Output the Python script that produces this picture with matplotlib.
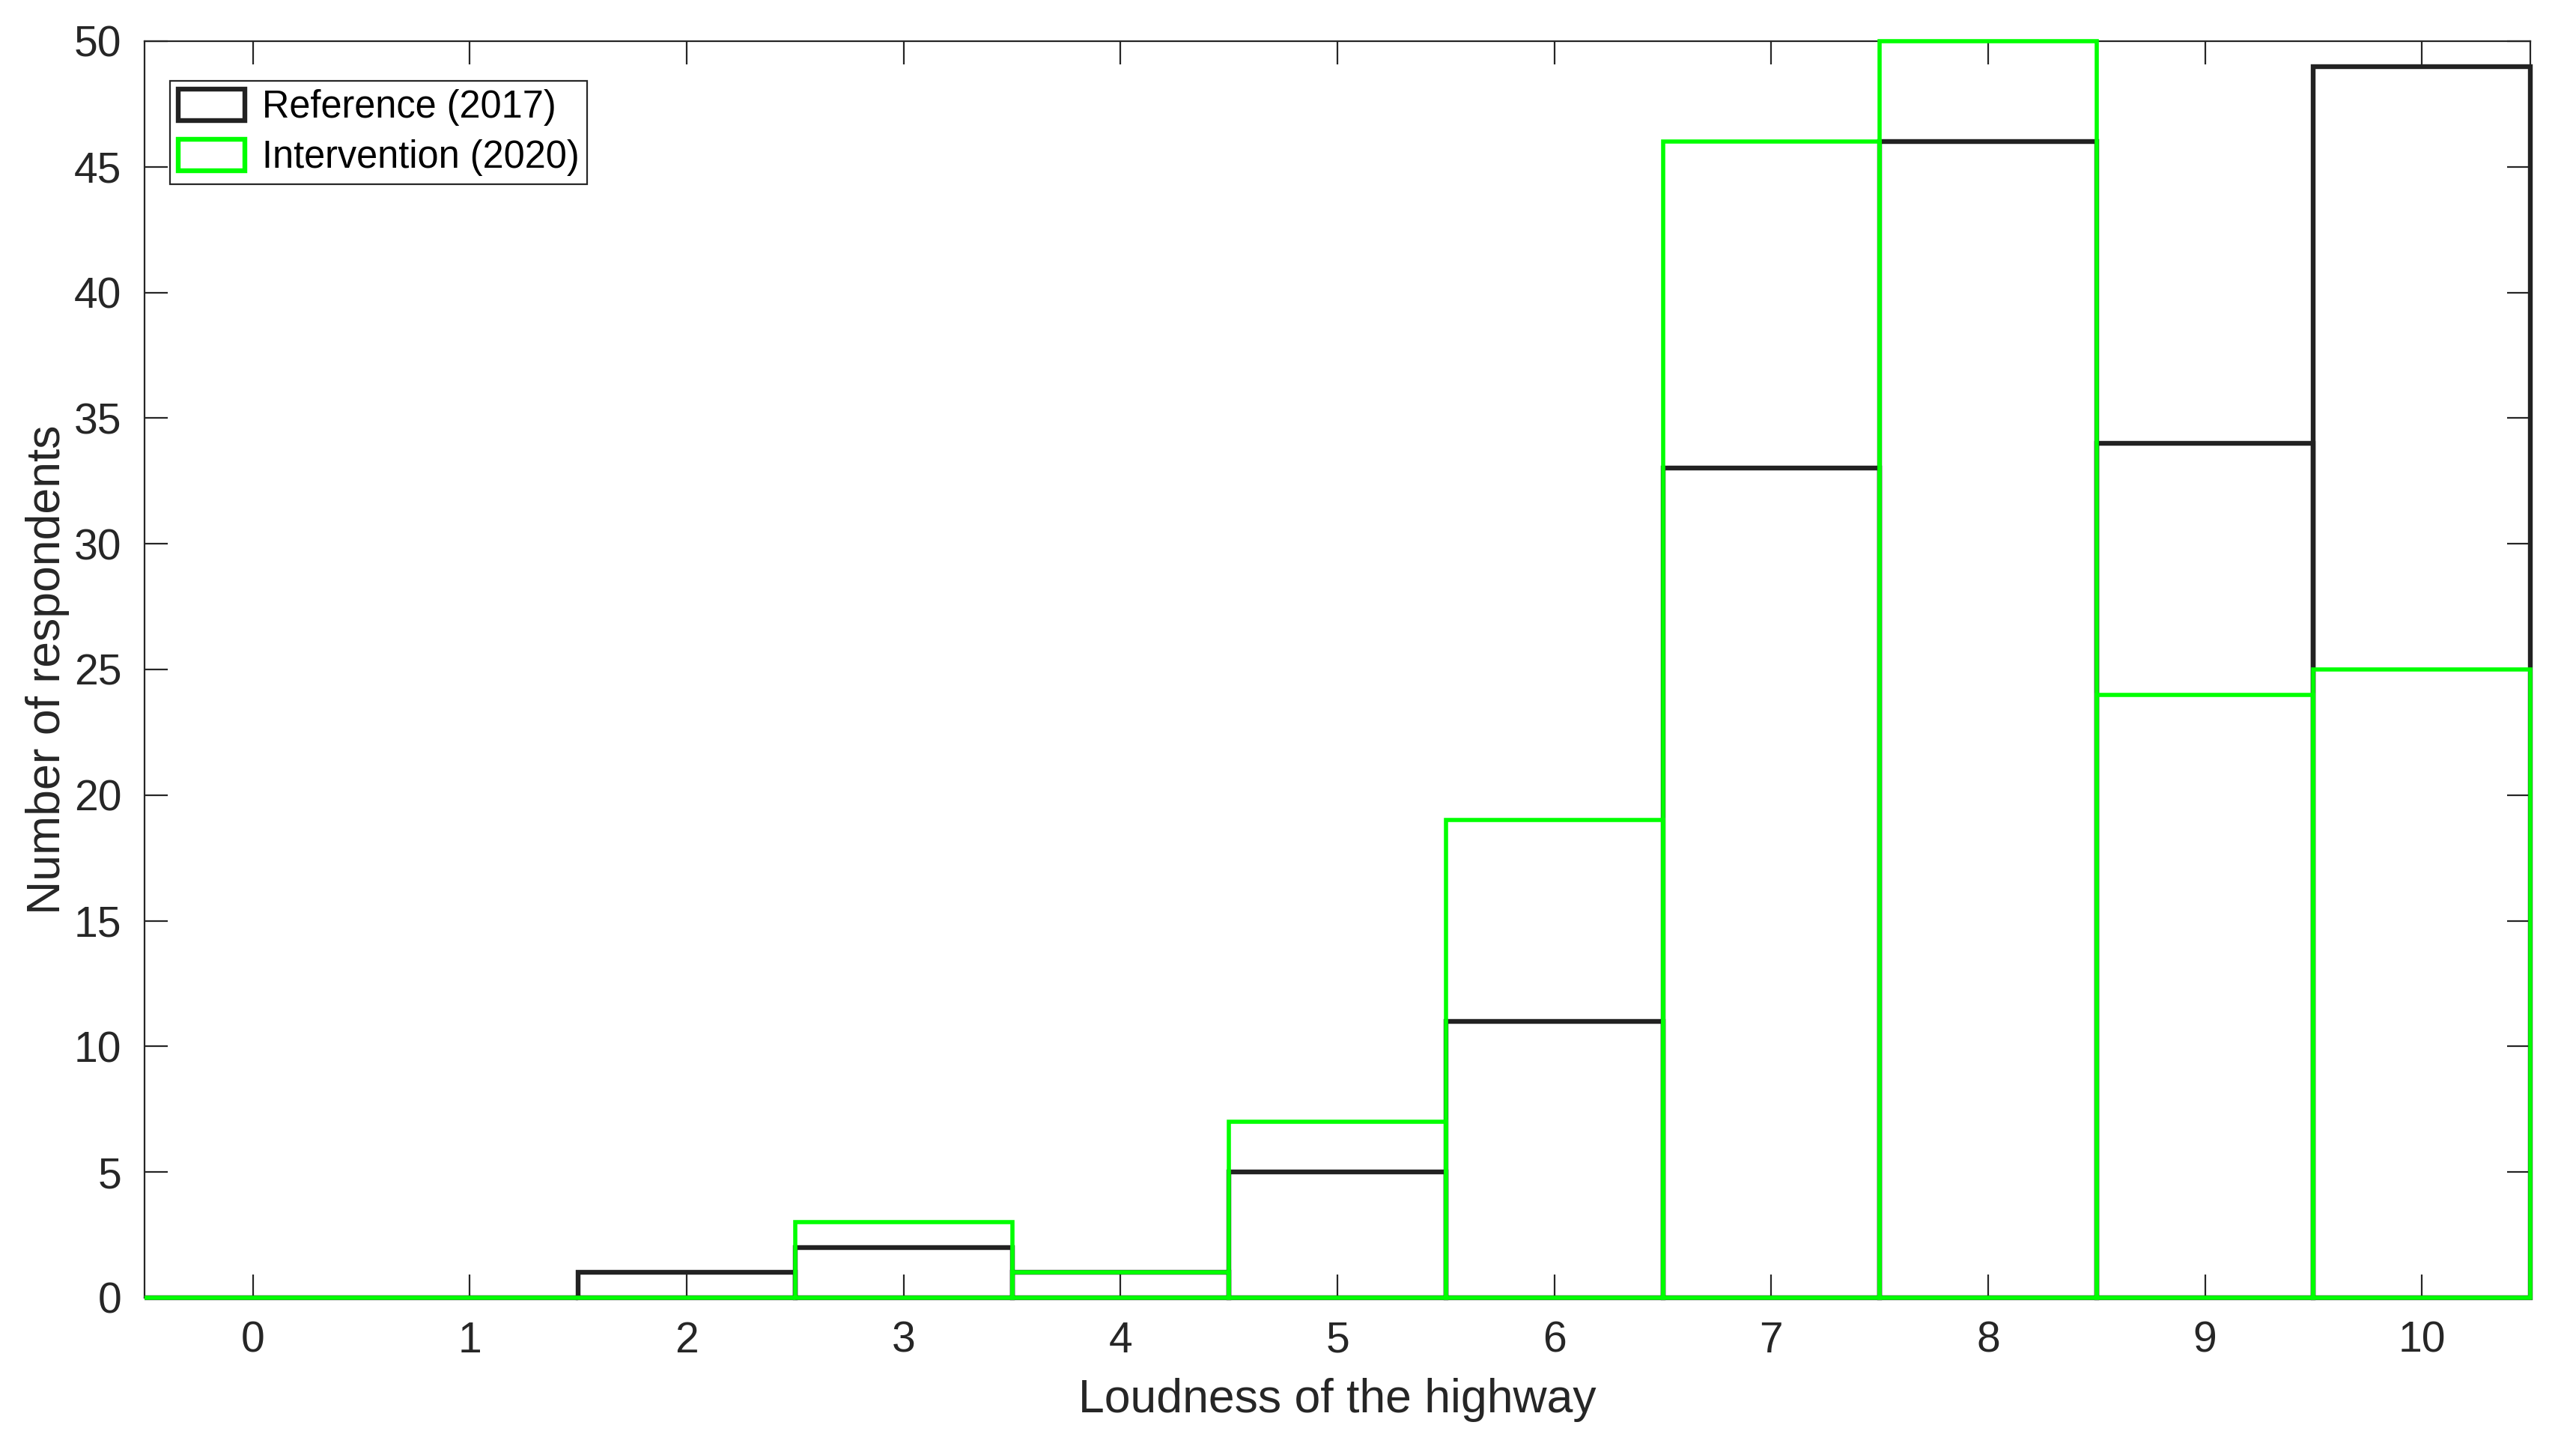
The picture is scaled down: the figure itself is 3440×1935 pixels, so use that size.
import numpy as np
import matplotlib
matplotlib.use('Agg')
import matplotlib.pyplot as plt

# Loudness rating (0-10) and counts per survey
loudness = [0, 1, 2, 3, 4, 5, 6, 7, 8, 9, 10]
reference_2017 = [0, 0, 1, 2, 1, 5, 11, 33, 46, 34, 49]
intervention_2020 = [0, 0, 0, 3, 1, 7, 19, 46, 50, 24, 25]

plt.rcParams['font.family'] = ['Liberation Sans', 'DejaVu Sans']
dark = '#262626'

fig = plt.figure(figsize=(17.205, 9.675), dpi=200)
ax = fig.add_axes([0.0561, 0.1044, 0.9259, 0.8672])

ax.bar(loudness, reference_2017, width=1.0, fill=False, edgecolor='#222222',
       linewidth=2.3, label='Reference (2017)', clip_on=False, zorder=3)
ax.bar(loudness, intervention_2020, width=1.0, fill=False, edgecolor='#00ff00',
       linewidth=2.0, label='Intervention (2020)', clip_on=False, zorder=4)

ax.set_xlim(-0.5, 10.5)
ax.set_ylim(0, 50)
ax.set_xticks(loudness)
ax.set_yticks(np.arange(0, 51, 5))

ax.tick_params(direction='in', length=11, width=0.8, colors=dark,
               labelsize=20.5, top=True, right=True, pad=11)
for s in ax.spines.values():
    s.set_color(dark)
    s.set_linewidth(0.8)

ax.set_xlabel('Loudness of the highway', fontsize=22.5, color=dark, labelpad=8)
ax.set_ylabel('Number of respondents', fontsize=22.5, color=dark, labelpad=2)

leg = ax.legend(loc='upper left', fontsize=18.2, handlelength=1.75,
                handleheight=0.9, handletextpad=0.45, borderpad=0.22,
                labelspacing=0.34, fancybox=False, framealpha=1,
                edgecolor=dark, bbox_to_anchor=(0.002, 0.985),
                borderaxespad=0.55)
leg.get_frame().set_linewidth(0.8)
for h in leg.legend_handles:
    h.set_linewidth(2.3)

fig.savefig('out.png', dpi=200)
